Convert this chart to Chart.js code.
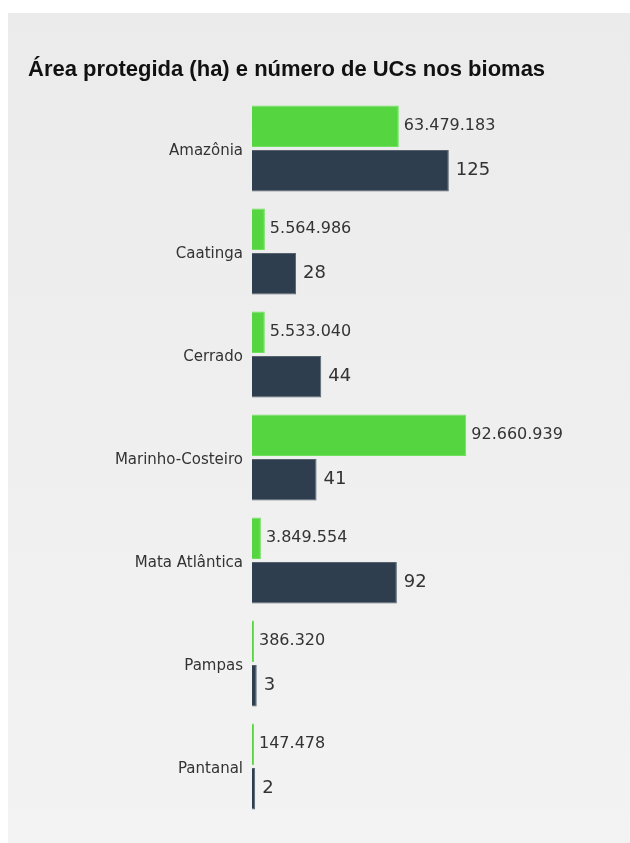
<!DOCTYPE html>
<html>
<head>
<meta charset="utf-8">
<script src="https://cdn.jsdelivr.net/npm/chart.js@4/dist/chart.umd.min.js"></script>
<style>
  html, body { margin: 0; padding: 0; background: #fff; }
  #wrap { width: 630px; height: 843px; position: relative; }
</style>
</head>
<body>
<div id="wrap"><canvas id="chart"></canvas></div>
<script>
const biomas = ['Amazônia', 'Caatinga', 'Cerrado', 'Marinho-Costeiro', 'Mata Atlântica', 'Pampas', 'Pantanal'];
const areaHa = [63479183, 5564986, 5533040, 92660939, 3849554, 386320, 147478];
const numUCs = [125, 28, 44, 41, 92, 3, 2];

const GREEN = '#55d641';
const DARK = '#2e3e4e';

// 1.234.567 style thousands
const fmt = v => String(v).replace(/\B(?=(\d{3})+(?!\d))/g, '.');

// grey panel behind everything
const panelBg = {
  id: 'panelBg',
  beforeDraw(chart) {
    const { ctx, width, height } = chart;
    ctx.save();
    const g = ctx.createLinearGradient(0, 13, 0, height);
    g.addColorStop(0, '#ebebeb');
    g.addColorStop(1, '#f3f3f3');
    ctx.fillStyle = g;
    ctx.fillRect(8, 13, width - 8, height - 13);
    ctx.restore();
  }
};

// value next to the end of every bar
const barValues = {
  id: 'barValues',
  afterDatasetsDraw(chart) {
    const { ctx } = chart;
    ctx.save();
    ctx.textBaseline = 'middle';
    ctx.textAlign = 'left';
    ctx.fillStyle = '#333';
    chart.data.datasets.forEach((ds, i) => {
      const meta = chart.getDatasetMeta(i);
      ctx.font = (i === 0 ? '16px' : '18px') + ' "DejaVu Sans", Verdana, sans-serif';
      meta.data.forEach((bar, j) => {
        ctx.fillText(fmt(ds.data[j]), bar.x + (i === 0 ? 5 : 7), bar.y);
      });
    });
    ctx.restore();
  }
};

new Chart(document.getElementById('chart'), {
  type: 'bar',
  data: {
    labels: biomas,
    datasets: [
      {
        label: 'Área protegida (ha)',
        data: areaHa,
        xAxisID: 'x',
        backgroundColor: GREEN,
        borderColor: '#6fe05e',
        borderWidth: 1,
        minBarLength: 2
      },
      {
        label: 'Número de UCs',
        data: numUCs,
        xAxisID: 'x2',
        backgroundColor: DARK,
        borderColor: '#56636f',
        borderWidth: 1,
        minBarLength: 2
      }
    ]
  },
  options: {
    indexAxis: 'y',
    responsive: true,
    maintainAspectRatio: false,
    animation: false,
    categoryPercentage: 0.865,
    barPercentage: 0.933,
    layout: {
      padding: { left: 28, right: 8, top: 57, bottom: 25 }
    },
    plugins: {
      legend: { display: false },
      tooltip: { enabled: false },
      title: {
        display: true,
        text: 'Área protegida (ha) e número de UCs nos biomas',
        align: 'start',
        color: '#111',
        font: { family: '"Liberation Sans", Arial, sans-serif', size: 22, weight: 'bold', lineHeight: 1.2 },
        padding: { top: 0, bottom: 13.6 }
      }
    },
    scales: {
      x: { display: false, min: 0, max: 160000000 },
      x2: { display: false, min: 0, max: 235 },
      y: {
        grid: { display: false, drawTicks: false },
        border: { display: false },
        ticks: {
          color: '#333',
          padding: 9,
          labelOffset: 3,
          font: { family: '"DejaVu Sans", Verdana, sans-serif', size: 15 }
        },
        afterFit(scale) { scale.width = 224; }
      }
    }
  },
  plugins: [panelBg, barValues]
});
</script>
</body>
</html>
